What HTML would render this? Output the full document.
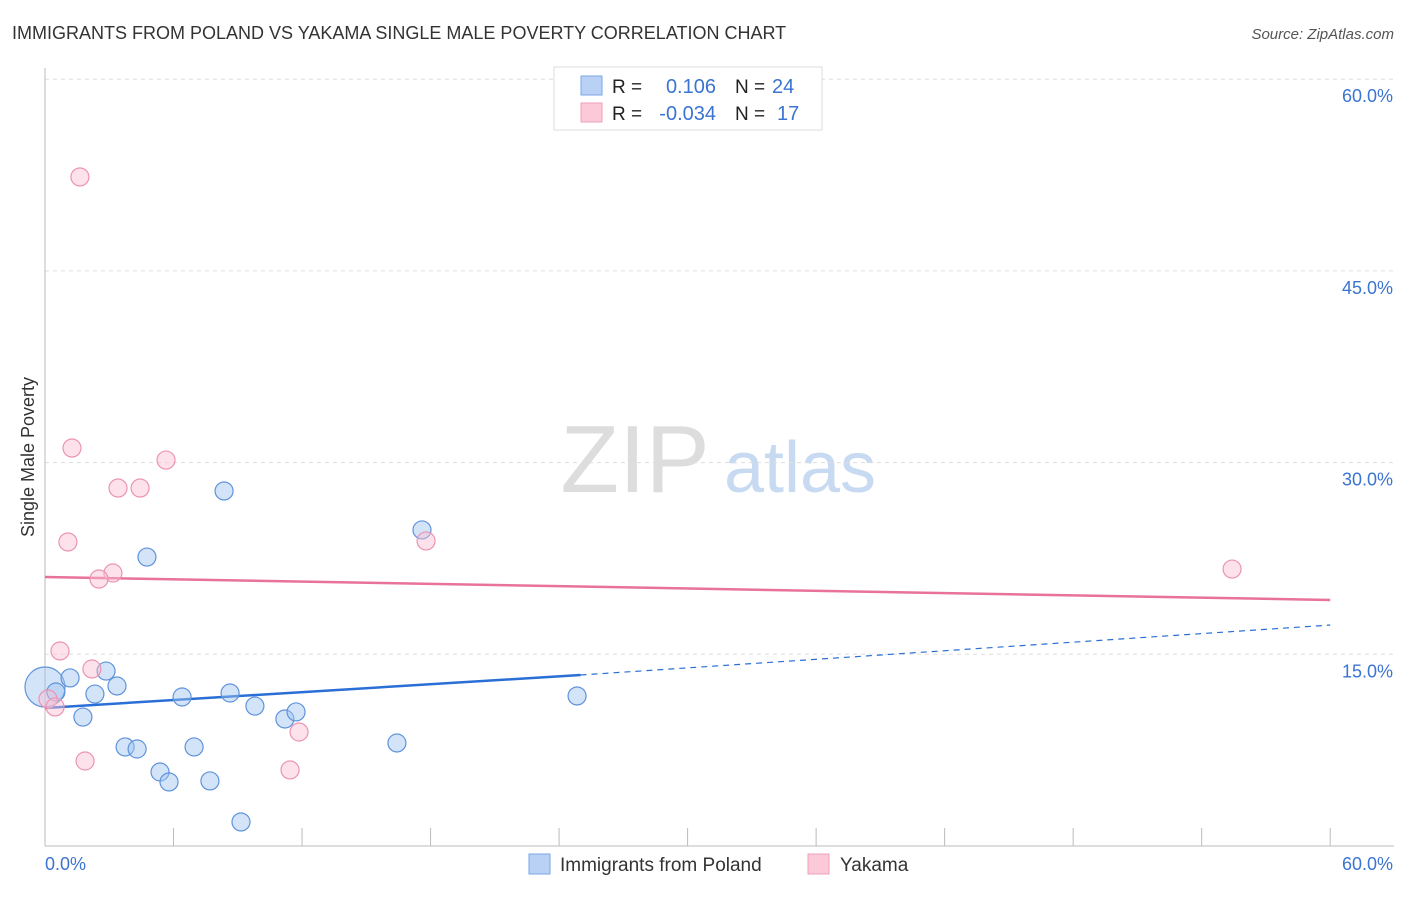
<!DOCTYPE html>
<html><head><meta charset="utf-8"><style>
body{margin:0;background:#fff;font-family:"Liberation Sans",sans-serif}
svg text{font-family:"Liberation Sans",sans-serif}
</style></head><body>
<svg width="1406" height="892" viewBox="0 0 1406 892">
<text x="12" y="39" font-size="18" fill="#333">IMMIGRANTS FROM POLAND VS YAKAMA SINGLE MALE POVERTY CORRELATION CHART</text>
<text x="1394" y="39" font-size="15" fill="#555" font-style="italic" text-anchor="end">Source: ZipAtlas.com</text>
<text x="635" y="492" font-size="96" fill="#ddd" font-family="Liberation Serif" text-anchor="middle">ZIP</text>
<text x="800" y="492" font-size="72" fill="#c8daf2" text-anchor="middle">atlas</text>
<g id="grid"></g>
<g id="axes"></g>
<text transform="translate(34,457) rotate(-90)" font-size="18" fill="#333" text-anchor="middle">Single Male Poverty</text>
<g id="lines"></g>
<g id="points"></g>
<g>
<rect x="554" y="67" width="268" height="63" fill="#fff" stroke="#ddd"/>
<rect x="581" y="76" width="21" height="19" fill="#b9d1f5" stroke="#7aa6e6"/>
<rect x="581" y="103" width="21" height="19" fill="#fcc9d9" stroke="#efa0b9"/>
<text x="612" y="93" font-size="19" fill="#222">R =</text>
<text x="716" y="93" font-size="20" fill="#3b74d1" text-anchor="end">0.106</text>
<text x="735" y="93" font-size="19" fill="#222">N =</text>
<text x="772" y="93" font-size="20" fill="#3b74d1">24</text>
<text x="612" y="120" font-size="19" fill="#222">R =</text>
<text x="716" y="120" font-size="20" fill="#3b74d1" text-anchor="end">-0.034</text>
<text x="735" y="120" font-size="19" fill="#222">N =</text>
<text x="777" y="120" font-size="20" fill="#3b74d1">17</text>
</g>
<g>
<rect x="529" y="854" width="21" height="20" fill="#b9d1f5" stroke="#7aa6e6"/>
<text x="560" y="871" font-size="19" fill="#333">Immigrants from Poland</text>
<rect x="808" y="854" width="21" height="20" fill="#fcc9d9" stroke="#efa0b9"/>
<text x="840" y="871" font-size="19" fill="#333">Yakama</text>
</g>
</svg>
<script>
const yTicks=[60,45,30,15];
const yTickLabels=["60.0%","45.0%","30.0%","15.0%"];
const xTicks=[0,6,12,18,24,30,36,42,48,54,60];
const xEndLabels=["0.0%","60.0%"];
const polandX=[0,0.51,1.17,2.33,1.77,2.85,3.36,3.74,4.30,4.76,5.37,5.79,6.40,6.96,7.70,8.36,8.64,9.80,9.15,11.20,11.72,16.43,17.60,24.84];
const polandY=[12.44,12.05,13.15,11.89,10.09,13.69,12.52,7.75,7.59,22.61,5.79,5.01,11.66,7.75,5.09,27.78,11.97,10.95,1.88,9.94,10.49,8.06,24.73,11.74];
const yakamaX=[1.63,1.26,5.65,3.41,4.44,1.07,17.79,3.17,2.52,55.42,0.70,2.19,0.14,0.47,11.86,1.87,11.44];
const yakamaY=[52.35,31.14,30.20,28.01,28.01,23.79,23.87,21.36,20.89,21.67,15.26,13.85,11.50,10.88,8.92,6.65,5.95];
const polandTrend=[[0,10.8],[25,13.38],[60,17.29]];
const yakamaTrend=[[0,21.05],[60,19.25]];
const NS="http://www.w3.org/2000/svg";
const X=v=>45+v*21.42, Y=v=>846-v*12.78;
function mk(t,a,p){const e=document.createElementNS(NS,t);for(const k in a)e.setAttribute(k,a[k]);document.getElementById(p).appendChild(e);return e;}
yTicks.forEach((t,i)=>{
 const l=mk('line',{x1:45,x2:1394,y1:Y(t),y2:Y(t),stroke:'#ddd','stroke-dasharray':'4,4'},'grid');
 
 
 const tx=mk('text',{x:1393,y:Y(t)+23,'font-size':18,fill:'#3b74d1','text-anchor':'end'},'grid');
 tx.textContent=yTickLabels[i];
 
 
});
let a=mk('line',{x1:45,x2:45,y1:68,y2:846,stroke:'#bbb'},'axes');


a=mk('line',{x1:45,x2:1394,y1:846,y2:846,stroke:'#bbb'},'axes');


xTicks.forEach(t=>{const l=mk('line',{x1:X(t),x2:X(t),y1:828,y2:846,stroke:'#bbb'},'axes');
 
 });
let t0=mk('text',{x:45,y:870,'font-size':18,fill:'#3b74d1'},'axes');t0.textContent=xEndLabels[0];


t0=mk('text',{x:1393,y:870,'font-size':18,fill:'#3b74d1','text-anchor':'end'},'axes');t0.textContent=xEndLabels[1];


// trend lines
let l=mk('line',{x1:X(polandTrend[0][0]),y1:Y(polandTrend[0][1]),x2:X(polandTrend[1][0]),y2:Y(polandTrend[1][1]),stroke:'#2a6fd6','stroke-width':2.5},'lines');


l=mk('line',{x1:X(polandTrend[1][0]),y1:Y(polandTrend[1][1]),x2:X(polandTrend[2][0]),y2:Y(polandTrend[2][1]),stroke:'#2a6fd6','stroke-width':1.2,'stroke-dasharray':'6,5'},'lines');


l=mk('line',{x1:X(yakamaTrend[0][0]),y1:Y(yakamaTrend[0][1]),x2:X(yakamaTrend[1][0]),y2:Y(yakamaTrend[1][1]),stroke:'#e8729a','stroke-width':2.5},'lines');


polandX.forEach((x,i)=>{const c=mk('circle',{cx:X(x),cy:Y(polandY[i]),r:i===0?20:9,fill:'rgba(160,195,240,0.45)',stroke:'#5f93dc','stroke-width':1.2},'points');
 
 });
yakamaX.forEach((x,i)=>{const c=mk('circle',{cx:X(x),cy:Y(yakamaY[i]),r:9,fill:'rgba(250,190,210,0.45)',stroke:'#eb94b2','stroke-width':1.2},'points');
 
 });
</script>
</body></html>
